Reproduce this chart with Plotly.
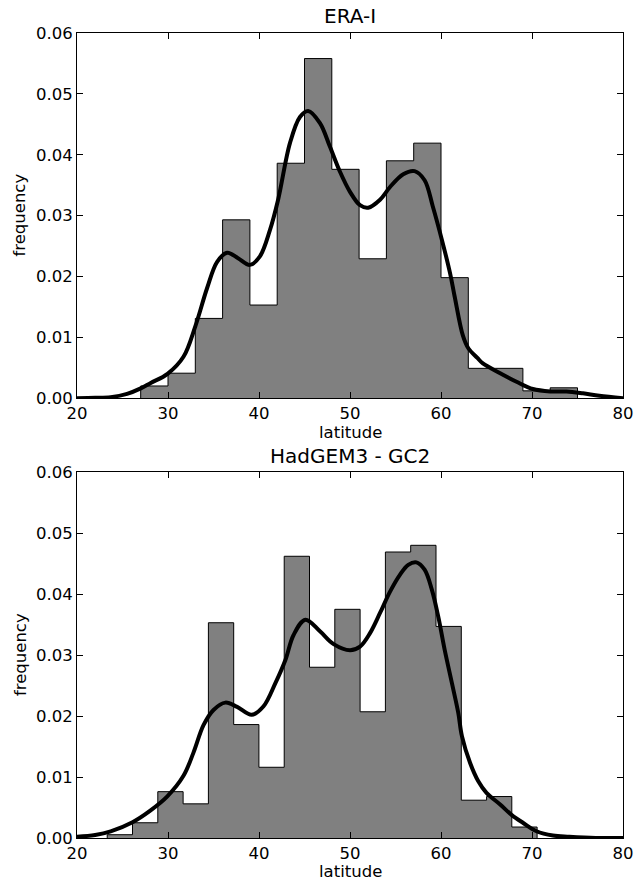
import plotly.graph_objects as go

# ---------------- data ----------------
era_edges = [27, 30, 33, 36, 39, 42, 45, 48, 51, 54, 57, 60, 63, 66, 69, 72, 75]
era_freq = [0.0020, 0.0041, 0.0131, 0.0293, 0.0153, 0.0386, 0.0558, 0.0376,
            0.0229, 0.0390, 0.0419, 0.0198, 0.0049, 0.0049, 0.0012, 0.0017]

era_kde_lat = [20, 22, 23.7, 25.5, 27.0, 28.1, 29.95, 31.7, 33.0, 34.3, 35.4, 36.5,
               37.7, 39.0, 40.1, 41.2, 42.1, 43.4, 44.5, 45.4, 46.7, 47.8, 48.9,
               50.0, 51.1, 52.0, 53.3, 54.4, 55.85, 57.1, 58.2, 59.1, 60.1, 61.0,
               61.5, 62.4, 63.0, 64.0, 64.6, 66.5, 68.3, 70.1, 72.0, 73.8, 75.6,
               77.4, 80]
era_kde_freq = [0.0, 0.00005, 0.00016, 0.0007, 0.0016, 0.0025, 0.0040, 0.0068,
                0.0118, 0.0181, 0.0224, 0.0239, 0.0230, 0.0219, 0.0233, 0.0276,
                0.0326, 0.0419, 0.0462, 0.0472, 0.0452, 0.0413, 0.0372, 0.0339,
                0.0317, 0.0313, 0.0326, 0.0347, 0.0368, 0.0373, 0.0358, 0.0315,
                0.0260, 0.0205, 0.0167, 0.0103, 0.0082, 0.0066, 0.0057, 0.0041,
                0.0027, 0.0015, 0.0011, 0.0011, 0.0008, 0.0004, 0.0]

had_edges = [23.32, 26.10, 28.88, 31.66, 34.44, 37.22, 39.99, 42.77, 45.55,
             48.33, 51.11, 53.89, 56.67, 59.45, 62.23, 65.01, 67.78, 70.56]
had_freq = [0.00054, 0.0025, 0.0076, 0.0056, 0.0353, 0.0186, 0.0116, 0.0462,
            0.0280, 0.0375, 0.0207, 0.0469, 0.0480, 0.0347, 0.0062, 0.0068, 0.0018]

had_kde_lat = [20, 22, 23.7, 26.1, 28.05, 29.9, 31.7, 32.8, 33.9, 35.0, 36.3, 37.6,
               39.2, 40.5, 41.8, 42.9, 43.8, 45.1, 46.7, 48.2, 50.0, 51.1, 52.2,
               53.3, 54.4, 55.5, 56.4, 57.3, 58.2, 59.0, 59.7, 60.4, 61.2, 61.9,
               62.3, 63.2, 64.1, 65.0, 66.5, 67.75, 69.0, 70.5, 72.3, 74.1, 77, 80]
had_kde_freq = [0.0002, 0.0005, 0.0011, 0.0026, 0.0045, 0.0068, 0.0102, 0.0140,
                0.0185, 0.0210, 0.0222, 0.0215, 0.0202, 0.0216, 0.0254, 0.0292,
                0.0333, 0.0358, 0.0339, 0.0318, 0.0308, 0.0314, 0.0336, 0.0369,
                0.0404, 0.0432, 0.0448, 0.0452, 0.0440, 0.0407, 0.0363, 0.0309,
                0.0254, 0.0205, 0.0167, 0.0123, 0.0093, 0.0074, 0.0055, 0.0038,
                0.0025, 0.0011, 0.0004, 0.0002, 0.0, 0.0]

titles = ["ERA-I", "HadGEM3 - GC2"]
x_label = "latitude"
y_label = "frequency"
x_ticks = [20, 30, 40, 50, 60, 70, 80]
y_ticks = [0.00, 0.01, 0.02, 0.03, 0.04, 0.05, 0.06]

FONT = "DejaVu Sans"
TICK_SIZE = 16.5
fig = go.Figure()


def add_panel(edges, freq, kde_x, kde_y, xa, ya):
    step_x = [edges[0]] + list(edges)
    step_y = [0] + list(freq) + [0]
    fig.add_trace(go.Scatter(
        x=step_x, y=step_y, mode="lines", line=dict(shape="hv", color="black", width=1),
        fill="tozeroy", fillcolor="#808080", xaxis=xa, yaxis=ya, showlegend=False,
        hoverinfo="skip"))
    fig.add_trace(go.Scatter(
        x=kde_x, y=kde_y, mode="lines",
        line=dict(shape="spline", smoothing=1.0, color="black", width=4),
        xaxis=xa, yaxis=ya, showlegend=False))


add_panel(era_edges, era_freq, era_kde_lat, era_kde_freq, "x", "y")
add_panel(had_edges, had_freq, had_kde_lat, had_kde_freq, "x2", "y2")

common_x = dict(range=[20, 80], tickvals=x_ticks, showline=True, linecolor="black",
                linewidth=1, mirror="ticks", ticks="inside", ticklen=6,
                tickcolor="black", showgrid=False, zeroline=False, automargin=False,
                tickfont=dict(family=FONT, size=TICK_SIZE, color="black"))
common_y = dict(range=[0, 0.06], tickvals=y_ticks, tickformat=".2f", showline=True,
                linecolor="black", linewidth=1, mirror="ticks", ticks="inside",
                ticklen=6, tickcolor="black", showgrid=False, zeroline=False,
                automargin=False,
                tickfont=dict(family=FONT, size=TICK_SIZE, color="black"))

top_dom = [0.5464, 1.0]
bot_dom = [0.0, 0.4545]


def label(text, x, y, xref="paper", yref="paper", angle=0, size=TICK_SIZE,
          xanchor="center", yanchor="middle", xshift=0, yshift=0):
    return dict(text=text, x=x, y=y, xref=xref, yref=yref, textangle=angle,
                xanchor=xanchor, yanchor=yanchor, xshift=xshift, yshift=yshift,
                showarrow=False, font=dict(family=FONT, size=size, color="black"))


annotations = [
    label(titles[0], 0.5, top_dom[1], yanchor="bottom", yshift=3, size=20),
    label(titles[1], 0.5, bot_dom[1], yanchor="bottom", yshift=2, size=20),
    label(y_label, 0, (top_dom[0] + top_dom[1]) / 2, angle=-90, xshift=-57),
    label(y_label, 0, (bot_dom[0] + bot_dom[1]) / 2, angle=-90, xshift=-57),
    label(x_label, 0.5, top_dom[0], yshift=-34),
    label(x_label, 0.5, bot_dom[0], yshift=-33),
]

fig.update_layout(
    width=639, height=880,
    margin=dict(l=77, r=16, t=33, b=42),
    paper_bgcolor="white", plot_bgcolor="white",
    font=dict(family=FONT, color="black"),
    xaxis=dict(common_x, domain=[0, 1], anchor="y"),
    yaxis=dict(common_y, domain=top_dom, anchor="x"),
    xaxis2=dict(common_x, domain=[0, 1], anchor="y2"),
    yaxis2=dict(common_y, domain=bot_dom, anchor="x2"),
    annotations=annotations,
)

fig.write_html(
    "out.html",
    config={"displayModeBar": False},
    post_script="document.body.style.margin='0px';document.body.style.overflow='hidden';",
)
